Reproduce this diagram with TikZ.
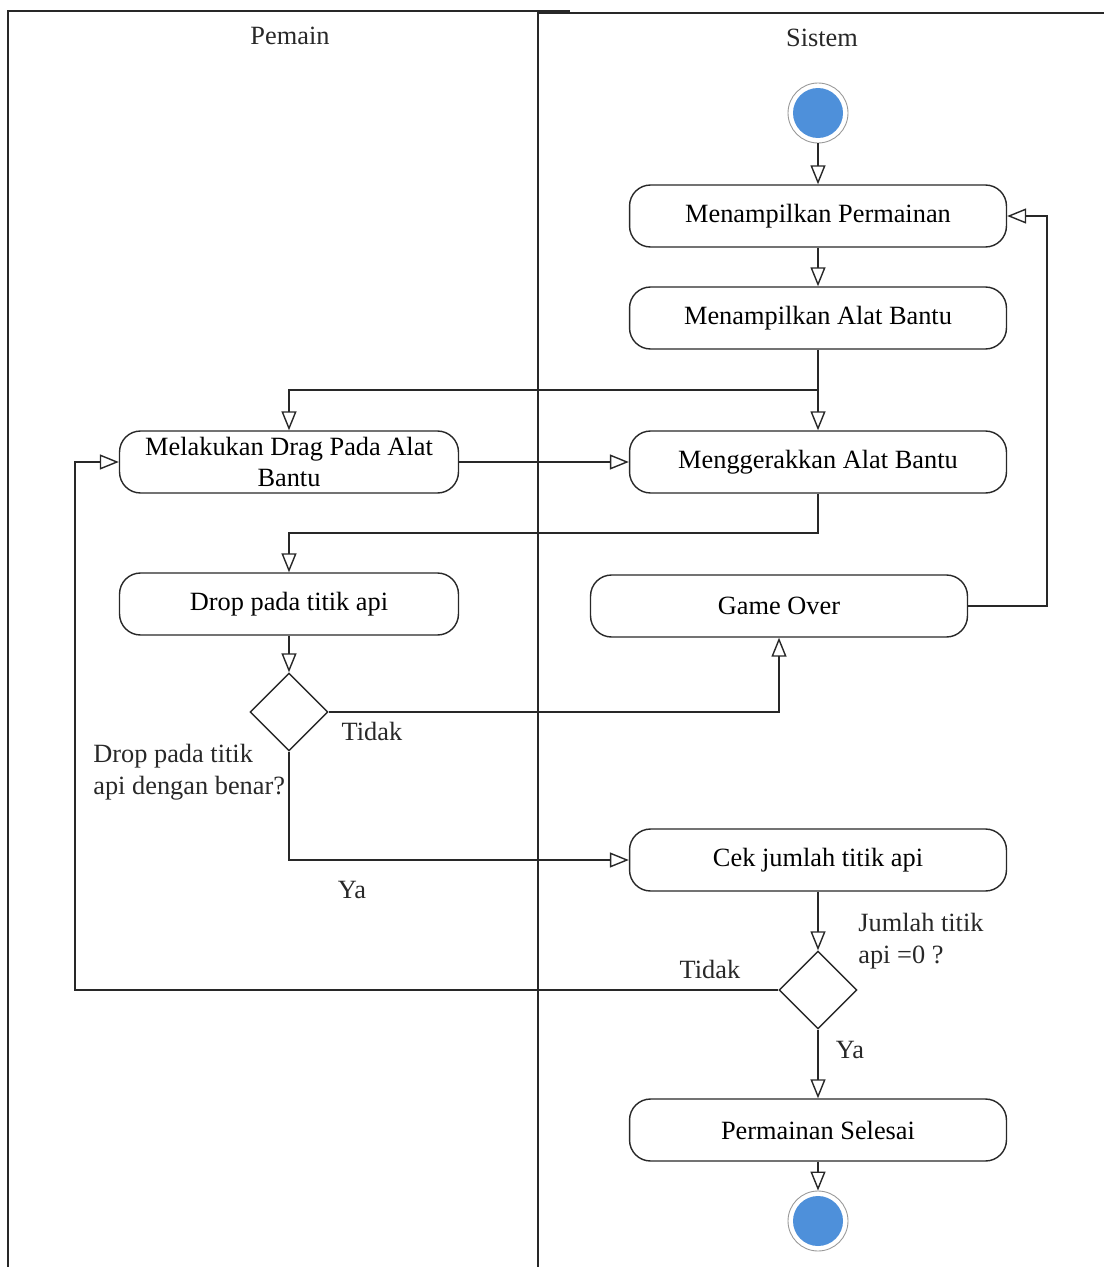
\documentclass[tikz,border=0pt]{standalone}
\usepackage{fontspec}
\setmainfont{Liberation Serif}
\usetikzlibrary{arrows.meta,shapes.geometric}
\definecolor{dotblue}{RGB}{78,144,218}
\definecolor{ink}{RGB}{40,40,40}
\tikzset{
  lane/.style={draw=ink, line width=0.9pt},
  actbox/.style={draw=ink, line width=0.8pt, rounded corners=0.42cm,
    minimum width=7.54cm, minimum height=1.24cm, inner sep=0pt,
    align=center, font=\fontsize{15}{18}\selectfont},
  decision/.style={draw=ink, line width=0.8pt, diamond, aspect=1,
    minimum size=1.56cm, inner sep=0pt},
  endpoint/.style={circle, draw=gray!80, line width=0.5pt, fill=white,
    minimum size=1.2cm, inner sep=0pt,
    path picture={\fill[dotblue] (path picture bounding box.center) circle (0.5cm);}},
  flow/.style={draw=ink, line width=0.8pt,
    -{Triangle[open, length=0.38cm, width=0.3cm, fill=white]}},
  lbl/.style={font=\fontsize{15}{18}\selectfont, inner sep=0pt, text=ink},
}
\begin{document}
\begin{tikzpicture}[x=0.02cm, y=-0.02cm]
  \useasboundingbox (0,0) rectangle (1104,1267);

  % swimlanes
  \draw[lane] (8,1267) -- (8,11) -- (570,11);
  \draw[lane] (538,1267) -- (538,13) -- (1104,13);
  \node[lbl] (hpemain) at (290,36) {Pemain};
  \node[lbl] (hsistem) at (822,38) {Sistem};

  % activities
  \node[endpoint] (start) at (818,113) {};
  \node[actbox] (b1) at (818,216) {Menampilkan Permainan};
  \node[actbox] (b2) at (818,318) {Menampilkan Alat Bantu};
  \node[actbox] (b3) at (818,462) {Menggerakkan Alat Bantu};
  \node[actbox, minimum width=6.78cm] (l1) at (289,462) {Melakukan Drag Pada Alat\\Bantu};
  \node[actbox, minimum width=6.78cm] (l2) at (289,604) {Drop pada titik api};
  \node[decision] (d1) at (289,712) {};
  \node[actbox] (go) at (779,606) {Game Over};
  \node[actbox] (b4) at (818,860) {Cek jumlah titik api};
  \node[decision] (d2) at (818,990) {};
  \node[actbox] (b5) at (818,1130) {Permainan Selesai};
  \node[endpoint] (stop) at (818,1221) {};

  % guard texts
  \node[lbl] (t1) at (372,731) {Tidak};
  \node[lbl, anchor=west, align=left] (q1) at (93,772) {Drop pada titik\\api dengan benar?};
  \node[lbl] (y1) at (352,890) {Ya};
  \node[lbl, anchor=west, align=left] (q2) at (858,941) {Jumlah titik\\api =0 ?};
  \node[lbl] (t2) at (710,969) {Tidak};
  \node[lbl] (y2) at (850,1050) {Ya};

  % junction points
  \coordinate (j1) at (818,390);
  \coordinate (j2) at (818,533);
  \coordinate (k1) at (75,990);
  \coordinate (k2) at (1047,606);

  % control flow
  \draw[flow] (start) -- (b1);
  \draw[flow] (b1) -- (b2);
  \draw[flow] (b2) -- (b3);
  \draw[flow] (j1) -| (l1);
  \draw[flow] (l1) -- (b3);
  \draw[flow] (b3) -- (j2) -| (l2);
  \draw[flow] (l2) -- (d1);
  \draw[flow] (d1) -| (go);
  \draw[flow] (go) -- (k2) |- (b1);
  \draw[flow] (d1) |- (b4);
  \draw[flow] (b4) -- (d2);
  \draw[flow] (d2.west) -- (k1) |- (l1);
  \draw[flow] (d2) -- (b5);
  \draw[flow] (b5) -- (stop);
\end{tikzpicture}
\end{document}
